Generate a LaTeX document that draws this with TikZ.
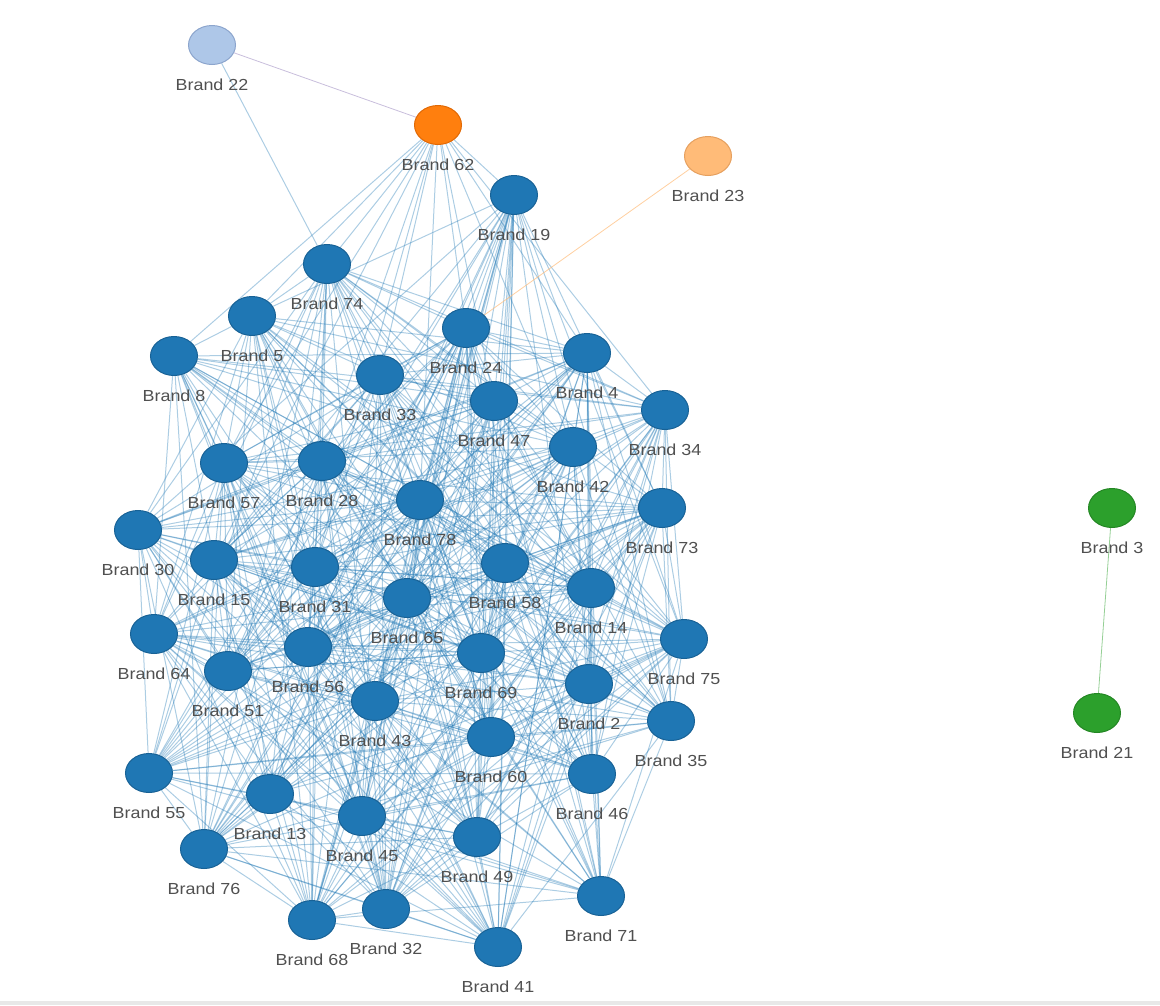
\documentclass[tikz,border=0pt]{standalone}
\usepackage{fontspec}
\setmainfont{Liberation Sans}[FakeStretch=1.12]
\usetikzlibrary{shapes.geometric}
\pgfdeclarelayer{bg}
\pgfsetlayers{bg,main}
\definecolor{nblue}{RGB}{31,119,180}
\definecolor{nbluedk}{RGB}{24,98,150}
\definecolor{ngreen}{RGB}{44,160,44}
\definecolor{ngreendk}{RGB}{36,135,36}
\definecolor{nlblue}{RGB}{174,199,232}
\definecolor{nlbluedk}{RGB}{140,165,205}
\definecolor{norange}{RGB}{255,127,14}
\definecolor{norangedk}{RGB}{225,105,5}
\definecolor{nlorange}{RGB}{255,187,120}
\definecolor{nlorangedk}{RGB}{230,160,95}
\definecolor{lblgray}{RGB}{80,80,80}
\definecolor{purpleedge}{RGB}{200,190,220}
\newcommand\mkbrand[4][bluend]{\node[nd,#1,label={[lbl]below:Brand #2}] (b#2) at (#3,#4) {};}
\begin{document}
\begin{tikzpicture}[x=1pt,y=-1pt,
  nd/.style={ellipse, minimum width=47pt, minimum height=39pt, inner sep=0pt, line width=1pt},
  bluend/.style={fill=nblue, draw=nbluedk},
  greennd/.style={fill=ngreen, draw=ngreendk},
  lbluend/.style={fill=nlblue, draw=nlbluedk},
  orangend/.style={fill=norange, draw=norangedk},
  lorangend/.style={fill=nlorange, draw=nlorangedk},
  lbl/.style={font=\fontsize{16}{18}\selectfont, text=lblgray, inner sep=0pt},
  label distance=14pt,
  edge/.style={draw=nblue, draw opacity=0.37, line width=1pt}]
\useasboundingbox (0,0) rectangle (1160,1005);
\fill[gray!18] (0,1001) rectangle (1160,1005);
% nodes
\mkbrand[lbluend]{22}{212}{45}
\mkbrand[orangend]{62}{438}{125}
\mkbrand[lorangend]{23}{708}{156}
\mkbrand{19}{514}{195}
\mkbrand{74}{327}{264}
\mkbrand{5}{252}{316}
\mkbrand{24}{466}{328}
\mkbrand{8}{174}{356}
\mkbrand{4}{587}{353}
\mkbrand{33}{380}{375}
\mkbrand{47}{494}{401}
\mkbrand{34}{665}{410}
\mkbrand{42}{573}{447}
\mkbrand{57}{224}{463}
\mkbrand{28}{322}{461}
\mkbrand{78}{420}{500}
\mkbrand{73}{662}{508}
\mkbrand{30}{138}{530}
\mkbrand{15}{214}{560}
\mkbrand{31}{315}{567}
\mkbrand{58}{505}{563}
\mkbrand{14}{591}{588}
\mkbrand{65}{407}{598}
\mkbrand{64}{154}{634}
\mkbrand{56}{308}{647}
\mkbrand{69}{481}{653}
\mkbrand{75}{684}{639}
\mkbrand{51}{228}{671}
\mkbrand{2}{589}{684}
\mkbrand{43}{375}{701}
\mkbrand{35}{671}{721}
\mkbrand{60}{491}{737}
\mkbrand{46}{592}{774}
\mkbrand{55}{149}{773}
\mkbrand{13}{270}{794}
\mkbrand{45}{362}{816}
\mkbrand{49}{477}{837}
\mkbrand{76}{204}{849}
\mkbrand{71}{601}{896}
\mkbrand{68}{312}{920}
\mkbrand{32}{386}{909}
\mkbrand{41}{498}{947}
\mkbrand[greennd]{3}{1112}{508}
\mkbrand[greennd]{21}{1097}{713}
% edges
\begin{pgfonlayer}{bg}
\pgfmathsetseed{4242}
\def\clist{19,74,5,24,8,4,33,47,34,42,57,28,78,73,30,15,31,58,14,65,64,56,69,75,51,2,43,35,60,46,55,13,45,49,76,71,68,32,41}
\foreach \a [count=\i] in \clist {
  \foreach \b [count=\j] in \clist {
    \ifnum\j>\i
      \pgfmathrandominteger{\h}{0}{99}
      \ifnum\h<66
        \draw[edge] (b\a) -- (b\b);
      \fi
    \fi
  }
}
\foreach \b in {74,5,8,57,33,28,78,24,47,42,4,34,19,31,15}
  \draw[edge] (b62) -- (b\b);
\draw[edge] (b22) -- (b74);
\draw[draw=purpleedge, line width=0.8pt] (b22) -- (b62);
\draw[draw=nlorange, draw opacity=0.7, line width=0.8pt] (b23) -- (b24);
\draw[draw=ngreen, draw opacity=0.5, line width=0.8pt] (b3) -- (b21);
\end{pgfonlayer}
\end{tikzpicture}
\end{document}
